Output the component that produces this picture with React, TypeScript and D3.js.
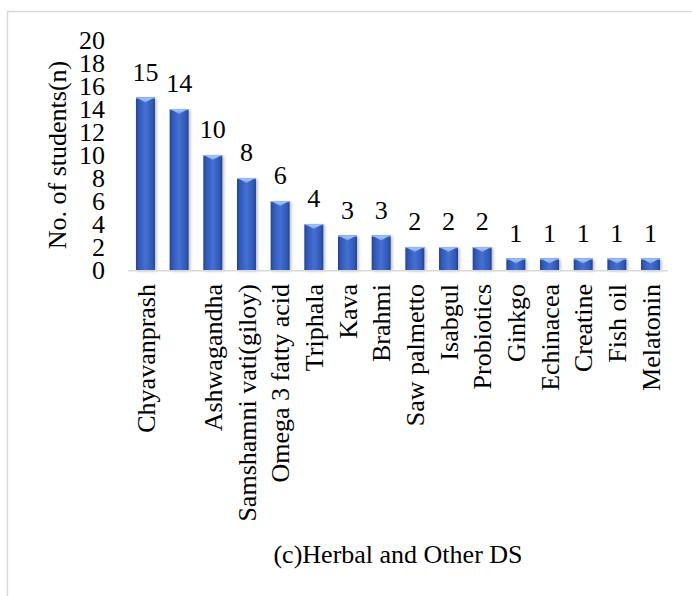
import React from "react";
import * as d3 from "d3";

// Herbal and other dietary supplements reported by students
const categories: string[] = [
  "Chyavanprash",
  "",
  "Ashwagandha",
  "Samshamni vati(giloy)",
  "Omega 3 fatty acid",
  "Triphala",
  "Kava",
  "Brahmi",
  "Saw palmetto",
  "Isabgul",
  "Probiotics",
  "Ginkgo",
  "Echinacea",
  "Creatine",
  "Fish oil",
  "Melatonin",
];
const counts: number[] = [15, 14, 10, 8, 6, 4, 3, 3, 2, 2, 2, 1, 1, 1, 1, 1];
const yTicks: number[] = [0, 2, 4, 6, 8, 10, 12, 14, 16, 18, 20];
const yTitle = "No. of students(n)";
const caption = "(c)Herbal and Other DS";

const W = 692;
const H = 596;
const FONT = "'Liberation Serif', 'Times New Roman', Times, serif";
const FS = 26;

export default function App() {
  const plotLeft = 128;
  const plotRight = 668;
  const baseY = 270;
  const topY = 40;

  const x = d3
    .scaleBand<number>()
    .domain(d3.range(categories.length))
    .range([plotLeft, plotRight])
    .paddingInner(0.437)
    .paddingOuter(0.237);
  const y = d3.scaleLinear().domain([0, 20]).range([baseY, topY]);
  const bw = x.bandwidth();

  const txt = { fontFamily: FONT, fontSize: FS, fill: "#000" } as React.CSSProperties;

  return (
    <svg
      width={W}
      height={H}
      style={{ position: "absolute", left: 0, top: 0, background: "#fff", fontFamily: FONT }}
    >
      <defs>
        <linearGradient id="barFill" x1="0" x2="1" y1="0" y2="0">
          <stop offset="0%" stopColor="#22418a" />
          <stop offset="14%" stopColor="#3158b6" />
          <stop offset="50%" stopColor="#4470d2" />
          <stop offset="86%" stopColor="#3158b6" />
          <stop offset="100%" stopColor="#22418a" />
        </linearGradient>
        <linearGradient id="capFill" x1="0" x2="0" y1="0" y2="1">
          <stop offset="0%" stopColor="#a9c8f7" />
          <stop offset="100%" stopColor="#6f9be6" />
        </linearGradient>
        <filter id="barShadow" x="-30%" y="-10%" width="160%" height="130%">
          <feDropShadow dx="1.5" dy="1" stdDeviation="1.6" floodColor="#000" floodOpacity="0.28" />
        </filter>
      </defs>

      <rect x={7.5} y={11.5} width={W + 10} height={H + 10} fill="#fff" stroke="#d9d9d9" strokeWidth={1.5} />

      {/* value axis labels */}
      {yTicks.map((t) => (
        <text key={t} x={105} y={y(t)} dy="0.35em" textAnchor="end" style={txt}>
          {t}
        </text>
      ))}
      <text
        transform={`translate(57,155) rotate(-90)`}
        dy="0.35em"
        textAnchor="middle"
        style={txt}
      >
        {yTitle}
      </text>

      {/* bars */}
      {counts.map((v, i) => {
        const bx = x(i)!;
        const top = y(v);
        const h = baseY - top;
        const cap = Math.min(5, h * 0.6);
        return (
          <g key={i}>
            <rect x={bx} y={top} width={bw} height={h} fill="url(#barFill)" filter="url(#barShadow)" />
            <rect x={bx} y={top} width={bw} height={1.2} fill="#8fb3ee" />
            <path
              d={`M${bx + 2},${top + 0.8} L${bx + bw - 2},${top + 0.8} L${bx + bw / 2},${top + cap} Z`}
              fill="url(#capFill)"
            />
          </g>
        );
      })}

      {/* category axis line */}
      <line x1={plotLeft} x2={plotRight} y1={baseY + 0.8} y2={baseY + 0.8} stroke="#d9d9d9" strokeWidth={1.6} />

      {/* value labels */}
      {counts.map((v, i) => (
        <text key={`v${i}`} x={x(i)! + bw / 2} y={y(v) - 17} textAnchor="middle" style={txt}>
          {v}
        </text>
      ))}

      {/* category labels */}
      {categories.map((c, i) => (
        <text
          key={`c${i}`}
          transform={`translate(${x(i)! + bw / 2},284) rotate(-90)`}
          dy="0.35em"
          textAnchor="end"
          style={txt}
        >
          {c}
        </text>
      ))}

      <text x={398} y={563} textAnchor="middle" style={txt}>
        {caption}
      </text>
    </svg>
  );
}
